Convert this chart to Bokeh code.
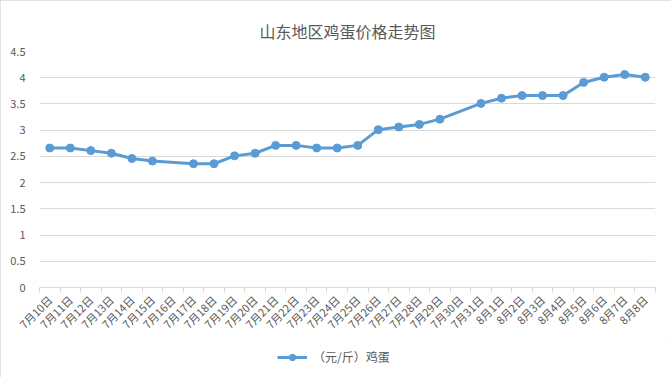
from bokeh.plotting import figure
from bokeh.layouts import column
from bokeh.models import Range1d, FixedTicker, Legend, LegendItem
from bokeh.embed import file_html
from bokeh.resources import INLINE
from math import pi

title_text = "山东地区鸡蛋价格走势图"
series_name = "（元/斤）鸡蛋"
dates = ["7月10日", "7月11日", "7月12日", "7月13日", "7月14日", "7月15日", "7月16日",
         "7月17日", "7月18日", "7月19日", "7月20日", "7月21日", "7月22日", "7月23日",
         "7月24日", "7月25日", "7月26日", "7月27日", "7月28日", "7月29日", "7月30日",
         "7月31日", "8月1日", "8月2日", "8月3日", "8月4日", "8月5日", "8月6日",
         "8月7日", "8月8日"]
prices = [2.66, 2.66, 2.61, 2.56, 2.46, 2.41, None, 2.36, 2.36, 2.51, 2.56, 2.71,
          2.71, 2.66, 2.66, 2.71, 3.01, 3.06, 3.11, 3.21, None, 3.51, 3.61, 3.66,
          3.66, 3.66, 3.91, 4.01, 4.06, 4.01]
y_ticks = [0, 0.5, 1, 1.5, 2, 2.5, 3, 3.5, 4, 4.5]
y_tick_labels = ["0", "0.5", "1", "1.5", "2", "2.5", "3", "3.5", "4", "4.5"]

FONT = "Noto Sans CJK SC"
GRAY = "#595959"
BLUE = "#5B9BD5"

n = len(dates)
xs = [i + 0.5 for i, v in enumerate(prices) if v is not None]
ys = [v for v in prices if v is not None]

p = figure(width=671, height=342, output_backend="svg", toolbar_location=None,
           x_range=Range1d(0, n), y_range=Range1d(0, 4.5),
           min_border_left=39, min_border_right=16, min_border_top=51, min_border_bottom=55)

p.title.text = title_text
p.title.align = "center"
p.title.text_font = FONT
p.title.text_font_size = "16px"
p.title.text_font_style = "normal"
p.title.text_color = GRAY
p.title.standoff = 17

p.line(xs, ys, line_color=BLUE, line_width=3)
p.scatter(xs, ys, size=8, fill_color=BLUE, line_color=BLUE)

# x axis
centers = [i + 0.5 for i in range(n)]
bounds = list(range(n + 1))
p.xaxis.ticker = FixedTicker(ticks=centers, minor_ticks=bounds)
p.xaxis.major_label_overrides = {c: d for c, d in zip(centers, dates)}
p.xaxis.major_label_orientation = pi / 4
p.xaxis.major_tick_out = 0
p.xaxis.major_tick_in = 0
p.xaxis.minor_tick_out = 5
p.xaxis.minor_tick_in = 0
p.xaxis.minor_tick_line_color = "#d9d9d9"
p.xaxis.axis_line_color = "#d9d9d9"
p.xaxis.major_label_text_font = FONT
p.xaxis.major_label_text_font_size = "11px"
p.xaxis.major_label_text_color = GRAY
p.xaxis.major_label_standoff = 5

# y axis
p.yaxis.ticker = FixedTicker(ticks=y_ticks)
p.yaxis.major_label_overrides = {t: l for t, l in zip(y_ticks, y_tick_labels)}
p.yaxis.axis_line_color = None
p.yaxis.major_tick_line_color = None
p.yaxis.minor_tick_line_color = None
p.yaxis.major_label_text_font = FONT
p.yaxis.major_label_text_font_size = "11px"
p.yaxis.major_label_text_color = GRAY
p.yaxis.major_label_standoff = 8

p.xgrid.grid_line_color = None
p.ygrid.grid_line_color = "#d9d9d9"
p.ygrid.ticker = FixedTicker(ticks=y_ticks)
p.outline_line_color = None

# legend strip below the chart (series drawn out of view; only its legend shows)
q = figure(width=671, height=35, output_backend="svg", toolbar_location=None,
           x_range=Range1d(0, n), y_range=Range1d(-10, -9),
           min_border_left=0, min_border_right=0, min_border_top=0, min_border_bottom=0)
q.axis.visible = False
q.grid.grid_line_color = None
q.outline_line_color = None
lq = q.line(xs, ys, line_color=BLUE, line_width=3)
sq = q.scatter(xs, ys, size=8, fill_color=BLUE, line_color=BLUE)
legend = Legend(items=[LegendItem(label=series_name, renderers=[lq, sq])],
                orientation="horizontal", location=(238, 12),
                label_text_font=FONT, label_text_font_size="12px",
                label_text_color=GRAY, border_line_color=None,
                background_fill_alpha=0, label_standoff=6,
                glyph_width=30, glyph_height=16, padding=0, margin=0)
q.add_layout(legend, "center")

layout = column(p, q, spacing=0)
layout.styles = {"outline": "1px solid #d9d9d9", "outline-offset": "-1px"}

open("out.html", "w").write(file_html(layout, INLINE))
